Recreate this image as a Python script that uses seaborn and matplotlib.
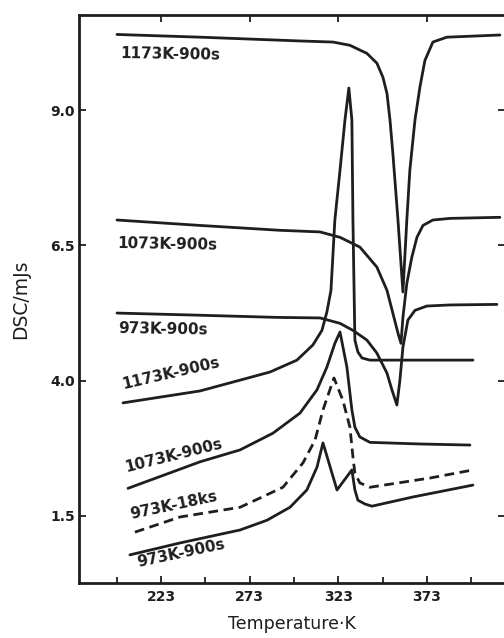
import matplotlib
matplotlib.use("Agg")
import matplotlib.pyplot as plt
import seaborn as sns
import pandas as pd

# -------------------------------------
# DSC traces (T in K, DSC in mJ/s)
# -------------------------------------
# upper three traces (endothermic dip near 358 K)
a_t = [198.2, 245.0, 301.4, 320.0, 329.6, 339.2, 344.8, 348.2, 350.5, 352.2, 353.8, 356.7,
       359.5, 361.7, 363.4, 366.3, 369.1, 371.9, 376.4, 384.3, 414.2]
a_y = [10.40, 10.35, 10.28, 10.26, 10.20, 10.05, 9.87, 9.61, 9.31, 8.82, 8.21, 6.97,
       5.64, 6.97, 7.89, 8.82, 9.43, 9.92, 10.26, 10.35, 10.39]

b_t = [198.2, 245.0, 290.1, 312.7, 324.0, 335.2, 344.8, 350.5, 353.8, 356.7, 358.4,
       359.5, 361.7, 364.5, 367.4, 370.8, 376.4, 386.0, 414.2]
b_y = [6.97, 6.87, 6.78, 6.75, 6.65, 6.47, 6.10, 5.67, 5.25, 4.88, 4.69,
       5.17, 5.80, 6.28, 6.65, 6.87, 6.97, 7.00, 7.02]

c_t = [198.2, 245.0, 288.4, 312.7, 324.0, 331.3, 339.2, 344.8, 350.5, 353.3, 356.1,
       357.8, 359.5, 362.3, 366.3, 373.0, 386.0, 412.5]
c_y = [5.25, 5.21, 5.17, 5.16, 5.06, 4.93, 4.75, 4.51, 4.14, 3.83, 3.55,
       4.01, 4.62, 5.12, 5.30, 5.38, 5.40, 5.41]

# lower four traces (exothermic peak near 323 K)
d_t = [201.6, 245.0, 267.6, 284.5, 299.7, 308.7, 313.8, 316.6, 318.9, 321.1, 324.0,
       326.8, 329.0, 330.7, 331.3, 332.4, 334.1, 336.4, 340.9, 399.0]
d_y = [3.59, 3.81, 4.01, 4.16, 4.38, 4.66, 4.93, 5.27, 5.67, 6.97, 7.89,
       8.82, 9.41, 8.82, 6.97, 4.75, 4.53, 4.42, 4.38, 4.38]

e_t = [204.4, 245.0, 267.6, 286.2, 301.4, 311.0, 316.6, 321.1, 324.0, 327.9, 330.7,
       332.4, 335.2, 340.9, 369.1, 397.3]
e_y = [2.01, 2.50, 2.72, 3.03, 3.40, 3.83, 4.25, 4.69, 4.90, 4.25, 3.46,
       3.14, 2.96, 2.86, 2.83, 2.81]

f_t = [208.3, 233.7, 267.6, 278.8, 291.8, 303.1, 309.9, 314.4, 320.6, 325.6, 329.6,
       331.3, 332.4, 335.2, 340.9, 374.7, 399.0]
f_y = [1.20, 1.48, 1.66, 1.83, 2.03, 2.48, 2.90, 3.46, 4.05, 3.64, 3.14,
       2.59, 2.29, 2.11, 2.03, 2.20, 2.35]

g_t = [205.5, 233.7, 267.6, 282.8, 295.8, 305.3, 311.0, 314.4, 322.3, 330.7, 332.4,
       334.1, 338.1, 342.0, 365.1, 399.0]
g_y = [0.78, 1.00, 1.24, 1.42, 1.66, 1.98, 2.40, 2.85, 1.98, 2.35, 1.98,
       1.79, 1.72, 1.68, 1.85, 2.07]

curves = [("a", a_t, a_y), ("b", b_t, b_y), ("c", c_t, c_y), ("d", d_t, d_y),
          ("e", e_t, e_y), ("f", f_t, f_y), ("g", g_t, g_y)]

labels = ["1173K-900s", "1073K-900s", "973K-900s",
          "1173K-900s", "1073K-900s", "973K-18ks", "973K-900s"]
label_x = [199.9, 198.7, 198.7, 201.0, 202.7, 205.5, 209.5]
label_y = [10.05, 6.54, 4.97, 3.92, 2.40, 1.52, 0.63]
label_rot = [-1, -1, -1, 13, 14, 12, 12]

y_ticks = [1.5, 4.0, 6.5, 9.0]
x_ticks = [223, 273, 323, 373]
x_minor = [198, 248, 298, 348, 398]

# -------------------------------------
# Plot
# -------------------------------------
sns.set_style("ticks")
plt.rcParams['font.family'] = ['DejaVu Sans']
ink = "#1e1e1e"

fig = plt.figure(figsize=(5.04, 6.38), dpi=100)
ax = fig.add_axes([0.1567, 0.0862, 0.845, 0.8903])

for name, t, y in curves:
    df = pd.DataFrame({"T": t, "DSC": y})
    ls = (0, (3.5, 2)) if name == "f" else "-"
    sns.lineplot(data=df, x="T", y="DSC", ax=ax, color=ink, lw=2.0,
                 linestyle=ls, sort=False, estimator=None)

for txt, lx, ly, rot in zip(labels, label_x, label_y, label_rot):
    ax.text(lx, ly, txt, fontsize=11, fontweight="bold", color=ink,
            rotation=rot, rotation_mode="anchor", ha="left", va="center")

ax.set_xlim(176.75, 417.0)
ax.set_ylim(0.26, 10.76)
ax.set_xticks(x_ticks)
ax.set_xticks(x_minor, minor=True)
ax.set_yticks(y_ticks)
ax.set_yticklabels([f"{v:.1f}" for v in y_ticks])
ax.tick_params(which="both", direction="in", top=True, right=True,
               colors=ink, width=1.3)
ax.tick_params(which="major", length=5, labelsize=10)
ax.tick_params(which="minor", length=4, top=False)
ax.tick_params(axis="x", pad=5)
ax.tick_params(axis="y", pad=3)
for lab in ax.get_xticklabels() + ax.get_yticklabels():
    lab.set_fontweight("bold")
for sp in ax.spines.values():
    sp.set_linewidth(2.0)
    sp.set_color(ink)
ax.spines["right"].set_visible(False)

ax.set_xlabel("Temperature·K", fontsize=12.5, color=ink, labelpad=8)
ax.set_ylabel("DSC/mJs", fontsize=13.5, color=ink, labelpad=14)

fig.savefig("out.png", dpi=100, facecolor="white")
